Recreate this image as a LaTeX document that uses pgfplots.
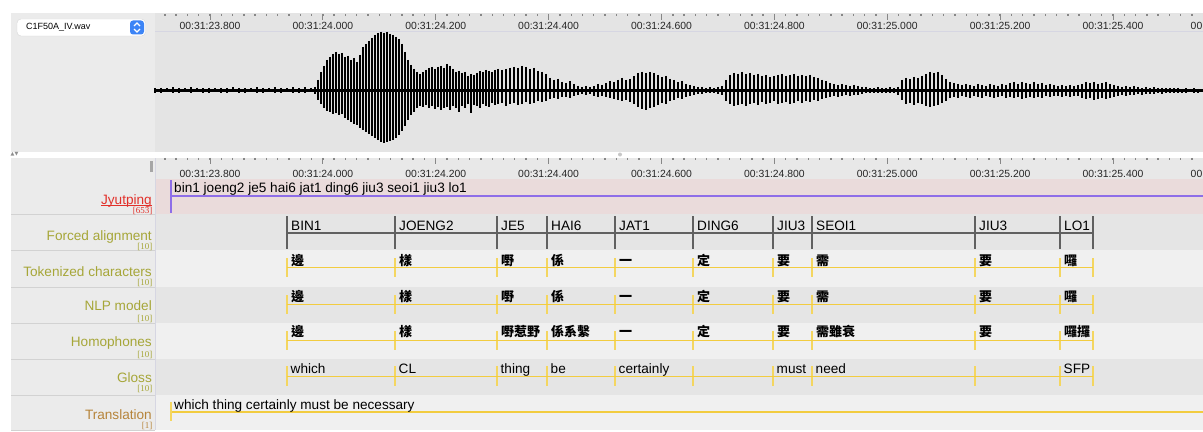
\documentclass[border=0pt]{standalone}
\usepackage{fontspec}
\setmainfont{Liberation Sans}
\newfontfamily\serifs{Liberation Serif}
\newfontfamily\cjk{Noto Sans CJK TC}
\newfontfamily\sym{DejaVu Sans}
\usepackage{pgfplots}
\usepackage{pgfplotstable}
\pgfplotsset{compat=1.18}

\definecolor{leftbg}{RGB}{235,235,235}
\definecolor{wavebg}{RGB}{228,228,228}
\definecolor{ruler2bg}{RGB}{232,232,232}
\definecolor{rowA}{RGB}{229,229,229}
\definecolor{rowB}{RGB}{240,240,240}
\definecolor{pinkbg}{RGB}{234,219,219}
\definecolor{purp}{RGB}{142,110,232}
\definecolor{ylw}{RGB}{242,204,64}
\definecolor{ylwv}{RGB}{244,214,96}
\definecolor{olive}{RGB}{166,166,56}
\definecolor{brn}{RGB}{182,132,58}
\definecolor{jred}{RGB}{226,48,42}
\definecolor{sep}{RGB}{210,210,210}
\definecolor{vsep}{RGB}{214,214,226}
\definecolor{btnblue}{RGB}{60,132,246}
\definecolor{fgray}{RGB}{96,96,96}
\definecolor{tickgray}{RGB}{135,135,135}

\newcommand{\tl}{\fontsize{13.6bp}{16bp}\selectfont}
\newcommand{\rl}{\fontsize{10.4bp}{12bp}\selectfont}
\newcommand{\sm}{\serifs\fontsize{9bp}{10bp}\selectfont}
\newcommand{\ck}{\cjk\bfseries\fontsize{13bp}{15bp}\selectfont}

% waveform envelope (pixel coordinates: x, top, bottom)
\pgfplotstableread{
x t b
155 88.5 93
161 88 93.5
167 88.5 92.5
173 87.5 93
179 88 93.5
185 88.5 92.5
191 87.5 93
197 88 92.5
203 88.5 93.5
209 88 93
215 88.5 92.5
221 88 93
227 88.5 93.5
233 87.5 92.5
239 88 93
245 88.5 93
251 88 92.5
257 87.5 93
263 88 93.5
269 88 92.5
275 87.5 93
281 88 93
287 88.5 92.5
293 87.5 93
299 88 93
305 87.5 93.5
311 88 92.5
315 87 94
318 80 100
321 72 104
324 66 108
327 60 111
330 57 112
333 54 114
336 52 113
339 54 115
342 53 114
345 57 118
348 56 120
351 60 122
354 58 124
357 62 125
360 55 128
363 47 130
366 44 132
369 41 134
372 38 136
375 35 138
378 33 140
381 32 142
384 33 143
387 32 142
390 34 141
393 35 140
396 37 138
399 39 135
402 44 131
405 52 126
408 60 120
411 65 115
414 69 112
417 72 108
420 74 106
423 72 107
426 70 105
429 68 108
432 67 106
435 69 109
438 67 107
441 66 110
444 68 108
447 64 107
450 66 110
453 69 106
456 72 108
459 71 112
462 73 106
465 72 108
468 76 104
471 74 113
474 75 105
477 73 106
480 71 108
483 72 104
486 70 106
489 71 107
492 72 103
495 70 105
498 69 104
502 70 103
506 69 106
510 68 104
514 67 103
518 68 105
522 66 104
526 67 102
530 69 104
534 68 103
538 71 101
542 72 102
546 74 101
550 78 99
554 80 98
558 79 99
562 82 97
566 83 97
570 81 98
574 84 96
578 86 95
582 87 94
586 86 95
590 87 94
594 86 96
598 84 97
602 85 96
606 83 97
610 81 98
614 82 99
618 80 100
622 78 101
626 80 100
630 79 102
634 76 104
638 73 107
642 72 109
646 73 110
650 72 108
654 73 107
658 75 105
662 77 103
666 76 104
670 79 101
674 80 100
678 82 98
682 81 99
686 84 97
690 85 96
694 86 95
698 87 94
702 87 94
706 88 93
710 87.5 93.5
714 88 93
718 87 94
722 86 95
726 80 101
730 75 104
734 73 106
738 74 105
742 72 104
746 74 106
750 73 104
754 75 103
758 74 105
762 76 102
766 75 104
770 77 103
774 76 101
778 75 104
782 74 103
786 76 102
790 75 104
794 74 103
798 76 101
802 75 103
806 76 101
810 75 102
814 77 100
818 78 101
822 80 99
826 81 98
830 83 97
834 84 96
838 85 97
842 84 96
846 85 95
850 86 96
854 85 95
858 86 95
862 87 94
866 87 93.5
870 88 93
874 88 93
878 87.5 93
882 88 93.5
886 88 93
890 87.5 93
894 88 93.5
898 87 95
902 80 100
906 78 104
910 79 103
914 77 105
918 78 103
922 76 104
926 74 106
930 72 107
934 73 106
938 72 105
942 75 103
946 79 101
950 82 98
954 83 97
958 84 98
962 85 96
966 84 97
970 85 98
974 86 96
978 84 97
982 85 98
986 86 96
990 84 97
994 85 98
998 86 97
1002 84 96
1006 85 98
1010 83 97
1014 82 98
1018 84 97
1022 82 99
1026 83 98
1030 84 97
1034 82 98
1038 84 97
1042 83 98
1046 85 96
1050 84 97
1054 85 96
1058 86 96
1062 85 97
1066 86 96
1070 85 97
1074 86 96
1078 85 96
1082 84 98
1086 82 99
1090 83 98
1094 82 100
1098 84 99
1102 83 98
1106 82 99
1110 84 98
1114 85 97
1118 86 96
1122 87 95
1126 86 96
1130 87 95
1134 86 95
1138 87 94
1142 88 95
1146 87 94
1150 88 94
1154 87.5 94
1158 88 93.5
1162 88 94
1166 88.5 93
1170 88 93.5
1174 88.5 93
1178 88 93
1182 89 93
1186 88.5 93
1190 89 92.5
1194 88.5 93
1198 89 93
1203 89 92.5
}\wave

% segment boundaries (pixel x); e = half length scale of boundary tick
\pgfplotstableread{
x e
287 1
395 1
497 1
547 1
615 1
693 1
773 1
812 1
975 1
1060 1
1093 1
}\bounds

\pgfplotsset{ruler/.style={anchor=north west, scale only axis,
  width=1048bp, height=17bp, xmin=23.702551, xmax=25.559391, ymin=0, ymax=1,
  axis x line*=top, axis y line=none, axis line style={draw=none},
  xtick={23.8,24.0,...,25.4}, minor xtick={23.72,23.74,...,25.54}, xticklabels={},
  tick align=inside, major tick length=6.5bp, minor tick length=2.5bp,
  major tick style={tickgray, line width=1bp}, minor tick style={tickgray, line width=1.4bp}},
  wavebar/.style={draw=none, mark=none, forget plot,
  error bars/.cd, y dir=plus, y explicit, error mark=none,
  error bar style={#1}}}

\begin{document}
\begin{tikzpicture}
\begin{axis}[at={(0,0)}, anchor=south west, scale only axis,
  width=1203bp, height=432bp, xmin=0, xmax=1203, ymin=0, ymax=432,
  y dir=reverse, hide axis, clip=false]
% ---------- backgrounds
\fill[white] (axis cs:0,0) rectangle (axis cs:1203,432);
\fill[leftbg] (axis cs:11,13) rectangle (axis cs:155,151.5);
\fill[wavebg] (axis cs:155,13) rectangle (axis cs:1203,151.5);
\draw[vsep, line width=1bp] (axis cs:155,32) -- (axis cs:1203,32);
\fill[leftbg] (axis cs:11,158) rectangle (axis cs:155,430);
\fill[ruler2bg] (axis cs:155,158) rectangle (axis cs:1203,179);
\fill[pinkbg] (axis cs:156,179) rectangle (axis cs:1203,214);
\fill[rowA] (axis cs:156,214) rectangle (axis cs:1203,250);
\fill[rowB] (axis cs:156,250) rectangle (axis cs:1203,287);
\fill[rowA] (axis cs:156,287) rectangle (axis cs:1203,323);
\fill[rowB] (axis cs:156,323) rectangle (axis cs:1203,359);
\fill[rowA] (axis cs:156,359) rectangle (axis cs:1203,395);
\fill[rowB] (axis cs:156,395) rectangle (axis cs:1203,430);
\foreach \yy in {214,250,287,323,359,395,430}{
  \edef\tmp{\noexpand\draw[sep, line width=1bp] (axis cs:11,\yy) -- (axis cs:155,\yy);}\tmp}
\draw[vsep, line width=1bp] (axis cs:155.5,158) -- (axis cs:155.5,430);
% scroll thumb and splitter
\fill[black!35] (axis cs:149.5,160.5) rectangle (axis cs:152.5,171.5);
\fill[black!22] (axis cs:620,154.5) circle (2bp);
\node[anchor=west, inner sep=0pt, text=black!45] at (axis cs:10.5,154.5) {\sym\fontsize{5bp}{6bp}\selectfont ▲▼};
% ---------- dropdown
\draw[fill=white, draw=black!16, rounded corners=4bp] (axis cs:17,19) rectangle (axis cs:145.5,36);
\fill[btnblue, rounded corners=3bp] (axis cs:130,20.5) rectangle (axis cs:144,34.5);
\draw[white, line width=1.2bp] (axis cs:134,26) -- (axis cs:137,23) -- (axis cs:140,26);
\draw[white, line width=1.2bp] (axis cs:134,29) -- (axis cs:137,32) -- (axis cs:140,29);
\node[anchor=base west, inner sep=0pt] at (axis cs:26,30) {\fontsize{9bp}{10bp}\selectfont C1F50A\_IV.wav};
% ---------- ruler labels
\foreach \xx/\lab in {210.0/23.800,322.9/24.000,435.8/24.200,548.6/24.400,661.5/24.600,774.4/24.800,887.2/25.000,1000.1/25.200,1113.0/25.400}{
  \edef\tmp{\noexpand\node[anchor=base, inner sep=0pt, text=black!85] at (axis cs:\xx,29.3) {\noexpand\rl 00:31:\lab};
  \noexpand\node[anchor=base, inner sep=0pt, text=black!85] at (axis cs:\xx,177.3) {\noexpand\rl 00:31:\lab};}\tmp}
\node[anchor=base west, inner sep=0pt, text=black!85] at (axis cs:1190.5,29.3) {\rl 00};
\node[anchor=base west, inner sep=0pt, text=black!85] at (axis cs:1190.5,177.3) {\rl 00};
% ---------- waveform
\addplot[black, line width=3.6bp, forget plot] coordinates {(155,90.7) (1203,90.7)};
\addplot[wavebar={black!50, line width=2.2bp}] table[x=x, y=t, y error expr=\thisrow{b}-\thisrow{t}] {\wave};
\addplot[wavebar={black, line width=1.2bp}] table[x=x, y=t, y error expr=\thisrow{b}-\thisrow{t}] {\wave};
\addplot[wavebar={black, line width=2.4bp}] table[x=x, y expr=0.4*\thisrow{t}+0.6*90.7, y error expr=0.4*(\thisrow{b}-\thisrow{t})] {\wave};
% ---------- Jyutping tier
\addplot[purp, line width=1.5bp, forget plot] coordinates {(171,196) (1203,196)};
\addplot[purp, line width=1.5bp, forget plot] coordinates {(171,180) (171,213)};
\node[anchor=base west, inner sep=0pt] at (axis cs:174,192.5) {\tl bin1 joeng2 je5 hai6 jat1 ding6 jiu3 seoi1 jiu3 lo1};
% ---------- Forced alignment
\addplot[draw=none, mark=none, forget plot,
  error bars/.cd, y dir=both, y explicit, error mark=none,
  error bar style={fgray, line width=1.5bp}]
  table[x=x, y expr=232.7, y error expr=16.4*\thisrow{e}] {\bounds};
\addplot[fgray, line width=1.5bp, forget plot] coordinates {(287,233) (1093,233)};
\foreach \xx/\lab in {287/BIN1,395/JOENG2,497/JE5,547/HAI6,615/JAT1,693/DING6,773/JIU3,812/SEOI1,975/JIU3,1060/LO1}{
  \edef\tmp{\noexpand\node[anchor=base west, inner sep=0pt] at (axis cs:\xx+4,230) {\noexpand\tl \lab};}\tmp}
% ---------- yellow tiers
\addplot[draw=none, mark=none, forget plot, error bars/.cd, y dir=both, y explicit, error mark=none,
  error bar style={ylwv, line width=1.3bp}] table[x=x, y expr=267.3, y error expr=9.8*\thisrow{e}] {\bounds};
\addplot[ylw, line width=1.4bp, forget plot] coordinates {(287,267.3) (1093,267.3)};
\addplot[draw=none, mark=none, forget plot, error bars/.cd, y dir=both, y explicit, error mark=none,
  error bar style={ylwv, line width=1.3bp}] table[x=x, y expr=304.5, y error expr=9.8*\thisrow{e}] {\bounds};
\addplot[ylw, line width=1.4bp, forget plot] coordinates {(287,304.5) (1093,304.5)};
\addplot[draw=none, mark=none, forget plot, error bars/.cd, y dir=both, y explicit, error mark=none,
  error bar style={ylwv, line width=1.3bp}] table[x=x, y expr=340.5, y error expr=9.8*\thisrow{e}] {\bounds};
\addplot[ylw, line width=1.4bp, forget plot] coordinates {(287,340.5) (1093,340.5)};
\addplot[draw=none, mark=none, forget plot, error bars/.cd, y dir=both, y explicit, error mark=none,
  error bar style={ylwv, line width=1.3bp}] table[x=x, y expr=376.2, y error expr=9.8*\thisrow{e}] {\bounds};
\addplot[ylw, line width=1.4bp, forget plot] coordinates {(287,376.2) (1093,376.2)};
% translation
\addplot[ylw, line width=1.4bp, forget plot] coordinates {(171,412) (1203,412)};
\addplot[ylwv, line width=1.3bp, forget plot] coordinates {(171,402) (171,421)};
\node[anchor=base west, inner sep=0pt] at (axis cs:174,409) {\tl which thing certainly must be necessary};
% characters
\foreach \xx/\lab in {287/邊,395/樣,497/嘢,547/係,615/一,693/定,773/要,812/需,975/要,1060/囉}{
  \edef\tmp{\noexpand\node[anchor=base west, inner sep=0pt] at (axis cs:\xx+4,265) {\noexpand\ck \lab};
  \noexpand\node[anchor=base west, inner sep=0pt] at (axis cs:\xx+4,301) {\noexpand\ck \lab};}\tmp}
\foreach \xx/\lab in {287/邊,395/樣,497/嘢惹野,547/係系繫,615/一,693/定,773/要,812/需雖衰,975/要,1060/囉攞}{
  \edef\tmp{\noexpand\node[anchor=base west, inner sep=0pt] at (axis cs:\xx+4,336.5) {\noexpand\ck \lab};}\tmp}
\foreach \xx/\lab in {287/which,395/CL,497/thing,547/be,615/certainly,773/must,812/need,1060/SFP}{
  \edef\tmp{\noexpand\node[anchor=base west, inner sep=0pt] at (axis cs:\xx+3.5,373) {\noexpand\tl \lab};}\tmp}
% ---------- tier names
\node[anchor=base east, inner sep=0pt, text=jred] (J) at (axis cs:152,204) {\tl Jyutping};
\draw[jred, line width=1bp] ([yshift=-1.2bp]J.base west) -- ([yshift=-1.2bp]J.base east);
\node[anchor=base east, inner sep=0pt, text=jred] at (axis cs:152.5,213.3) {\sm [653]};
\node[anchor=base east, inner sep=0pt, text=olive] at (axis cs:152,240.7) {\tl Forced alignment};
\node[anchor=base east, inner sep=0pt, text=olive] at (axis cs:152.5,249) {\sm [10]};
\node[anchor=base east, inner sep=0pt, text=olive] at (axis cs:152,276.7) {\tl Tokenized characters};
\node[anchor=base east, inner sep=0pt, text=olive] at (axis cs:152.5,285) {\sm [10]};
\node[anchor=base east, inner sep=0pt, text=olive] at (axis cs:152,310) {\tl NLP model};
\node[anchor=base east, inner sep=0pt, text=olive] at (axis cs:152.5,321) {\sm [10]};
\node[anchor=base east, inner sep=0pt, text=olive] at (axis cs:152,346.7) {\tl Homophones};
\node[anchor=base east, inner sep=0pt, text=olive] at (axis cs:152.5,357.5) {\sm [10]};
\node[anchor=base east, inner sep=0pt, text=olive] at (axis cs:152,382.7) {\tl Gloss};
\node[anchor=base east, inner sep=0pt, text=olive] at (axis cs:152.5,391) {\sm [10]};
\node[anchor=base east, inner sep=0pt, text=brn] at (axis cs:152,419) {\tl Translation};
\node[anchor=base east, inner sep=0pt, text=brn] at (axis cs:152.5,428.5) {\sm [1]};
\end{axis}
% ---------- time rulers
\begin{axis}[ruler, at={(155bp,418bp)}]
\addplot[draw=none, forget plot] coordinates {(24,0.5) (25,0.5)};
\end{axis}
\begin{axis}[ruler, at={(155bp,274bp)}]
\addplot[draw=none, forget plot] coordinates {(24,0.5) (25,0.5)};
\end{axis}
\pgfresetboundingbox
\useasboundingbox (0,0) rectangle (1203bp,432bp);
\end{tikzpicture}
\end{document}
